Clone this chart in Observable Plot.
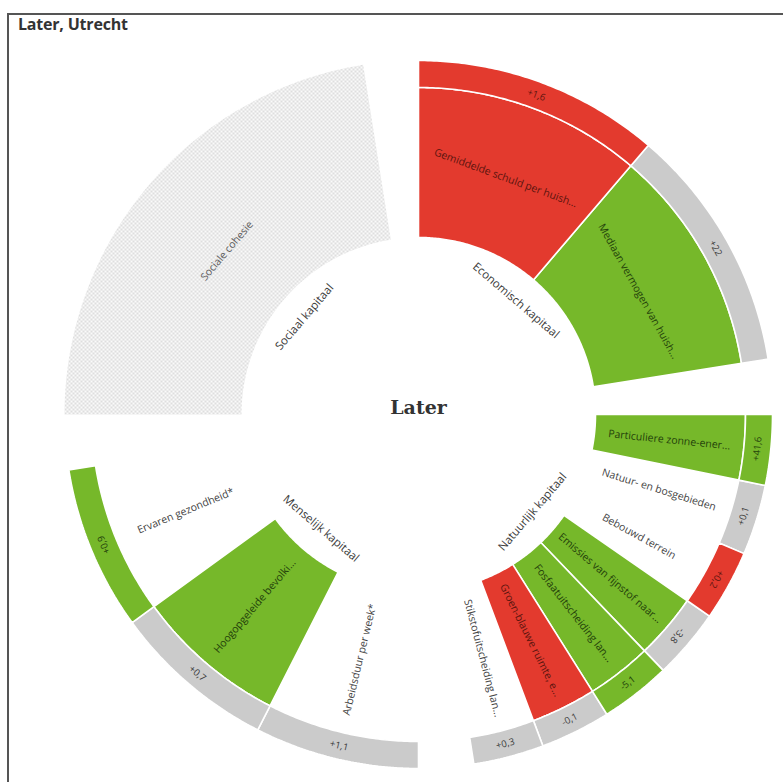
<!DOCTYPE html>
<html><head><meta charset="utf-8">
<script src="https://cdn.jsdelivr.net/npm/d3@7"></script>
<script src="https://cdn.jsdelivr.net/npm/@observablehq/plot@0.6"></script>
<style>
html,body{margin:0;padding:0;overflow:hidden;background:#fff;width:783px;height:782px;}
#frame{position:absolute;left:7px;top:13px;width:820px;height:820px;border:2px solid #555;box-sizing:border-box;}
#chart{position:absolute;left:0;top:0;}
#title{position:absolute;left:18px;top:13px;font:bold 16px "Open Sans";line-height:22px;color:#333;letter-spacing:-0.2px;}
</style></head><body>
<div id="frame"></div>
<div id="chart"></div>
<div id="title">Later, Utrecht</div>
<script>
// ---- data ----
const groups = ["Economisch kapitaal", "Natuurlijk kapitaal", "Menselijk kapitaal", "Sociaal kapitaal"];
const items = [
  "Gemiddelde schuld per huish...", "Mediaan vermogen van huish...",
  "Particuliere zonne-ener...", "Natuur- en bosgebieden", "Bebouwd terrein",
  "Emissies van fijnstof naar...", "Fosfaatuitscheiding lan...", "Groen-blauwe ruimte, e...",
  "Stikstofuitscheiding lan...",
  "Arbeidsduur per week*", "Hoogopgeleide bevolki...", "Ervaren gezondheid*",
  "Sociale cohesie"
];
const itemGroup = [0, 0, 1, 1, 1, 1, 1, 1, 1, 2, 2, 2, 3];
const status = ["bad", "good", "good", "none", "none", "good", "good", "bad", "none", "none", "good", "none", "nodata"];
const change = ["+1,6", "+22", "+41,6", "+0,1", "+0,2", "-3,8", "-5,1", "-0,1", "+0,3", "+1,1", "+0,7", "+0,9", null];
const changeStatus = ["bad", "neutral", "good", "neutral", "bad", "neutral", "good", "neutral", "neutral", "neutral", "neutral", "good", null];
const centerLabel = "Later";

// ---- layout ----
const W = 783, H = 782, CX = 418, CY = 414;
const R0 = 177, R1 = 327, R2 = 354;
const SPAN = 81;
const fillOf = {good: "#76b82a", bad: "#e33a2e", neutral: "#cbcbcb"};
const textOn = {good: "#24420a", bad: "#5c150e", neutral: "#3a3a3a", none: "#444", nodata: "#5a5a5a"};

const counts = groups.map((g, k) => itemGroup.filter(x => x === k).length);
const segs = items.map((name, i) => {
  const k = itemGroup[i];
  const j = itemGroup.slice(0, i).filter(x => x === k).length;
  const step = SPAN / counts[k];
  const a0 = 90 * k + j * step, a1 = a0 + step;
  return {i, name, k, a0, a1, mid: (a0 + a1) / 2, step};
});

function arcPoly(a0, a1, r0, r1, key) {
  const pts = [];
  const n = Math.max(2, Math.ceil((a1 - a0) / 0.5));
  for (let s = 0; s <= n; s++) pts.push({key, a: a0 + (a1 - a0) * s / n, r: r0});
  for (let s = n; s >= 0; s--) pts.push({key, a: a0 + (a1 - a0) * s / n, r: r1});
  pts.push({...pts[0]});
  return pts;
}
const rad = a => a * Math.PI / 180;
const px = d => d.r * Math.sin(rad(d.a));
const py = d => d.r * Math.cos(rad(d.a));
const readable = a => { let r = ((a % 360) + 360) % 360; if (r > 90 && r < 270) r -= 180; if (r > 180) r -= 360; return r; };
const radial = a => (a < 180 ? a - 90 : a - 270);

const barPts = st => segs.filter(s => status[s.i] === st).flatMap(s => arcPoly(s.a0, s.a1, R0, R1, "b" + s.i));
const ringPts = st => segs.filter(s => changeStatus[s.i] === st).flatMap(s => arcPoly(s.a0, s.a1, R1, R2, "r" + s.i));
const hatchPts = segs.filter(s => status[s.i] === "nodata").flatMap(s => arcPoly(s.a0, s.a1, R0, R2, "h" + s.i));

const itemLabels = segs.map(s => ({
  text: s.name, a: s.mid, r: (R0 + R1) / 2,
  rot: s.step >= 40 ? readable(s.mid) : radial(s.mid),
  fill: textOn[status[s.i]]
}));
const keepAngle = new Set([4, 5, 11]);
const ringLabels = segs.filter(s => change[s.i] != null).map(s => ({
  text: change[s.i], a: s.mid, r: (R1 + R2) / 2,
  rot: keepAngle.has(s.i) ? s.mid : readable(s.mid),
  fill: textOn[changeStatus[s.i]]
}));
const groupLabels = groups.map((g, k) => ({text: g, a: 90 * k + SPAN / 2, r: 150, rot: readable(90 * k + SPAN / 2)}));

const lineOpts = (fill) => ({x: px, y: py, z: "key", fill, stroke: "white", strokeWidth: 1.6, strokeLinejoin: "miter", curve: "linear"});

const svg = Plot.plot({
  width: W, height: H,
  marginTop: 0, marginRight: 0, marginBottom: 0, marginLeft: 0,
  x: {domain: [-CX, W - CX], axis: null},
  y: {domain: [CY - H, CY], axis: null},
  style: {background: "transparent"},
  marks: [
    Plot.line(hatchPts, {x: px, y: py, z: "key", fill: "url(#hatch)", stroke: "none", curve: "linear"}),
    Plot.line(barPts("good"), lineOpts(fillOf.good)),
    Plot.line(barPts("bad"), lineOpts(fillOf.bad)),
    Plot.line(ringPts("neutral"), lineOpts(fillOf.neutral)),
    Plot.line(ringPts("good"), lineOpts(fillOf.good)),
    Plot.line(ringPts("bad"), lineOpts(fillOf.bad)),
    Plot.text(itemLabels, {x: px, y: py, text: "text", rotate: "rot", fill: "fill", fontSize: 10.5, fontWeight: 500, fontFamily: "Open Sans"}),
    Plot.text(ringLabels, {x: px, y: py, text: "text", rotate: "rot", fill: "fill", fontSize: 9.5, fontWeight: 500, fontFamily: "Open Sans"}),
    Plot.text(groupLabels, {x: px, y: py, text: "text", rotate: "rot", fill: "#3a3a3a", fontSize: 11.5, fontWeight: 500, fontFamily: "Open Sans"}),
    Plot.text([centerLabel], {x: () => 0, y: () => 0, text: d => d, dy: -7, fontSize: 19, fontWeight: "bold", fontFamily: "DejaVu Serif", fill: "#333"})
  ]
});

d3.select(svg).insert("defs", ":first-child").html(
  '<pattern id="hatch" width="4" height="4" patternUnits="userSpaceOnUse">' +
  '<rect width="4" height="4" fill="#fafafa"/>' +
  '<rect width="2" height="2" fill="#dedede"/>' +
  '<rect x="2" y="2" width="2" height="2" fill="#dedede"/></pattern>'
);
document.getElementById("chart").appendChild(svg);
</script>
</body></html>
